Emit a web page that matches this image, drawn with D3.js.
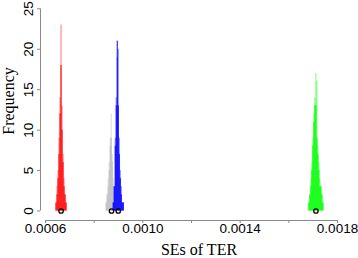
<!DOCTYPE html>
<html><head><meta charset="utf-8">
<script src="https://cdn.jsdelivr.net/npm/d3@7"></script>
<style>html,body{margin:0;padding:0;background:#fff;}svg{display:block;}</style>
</head><body>
<script>
// ---- data ----
const binWidth = 0.0000041;
const seriesNames = ["A", "B", "C", "D"];
const seriesColors = ["#FF0000", "#BEBEBE", "#0000FF", "#00FF00"];
const binStarts = [0.0006433, 0.0008495, 0.0008784, 0.0016825];
const redSolid = [1,2,4,7,12,18,10,6,3,2,1];
const redLight = [1,3,5,9,14,23,13,7,4,2,1];
const graySolid = [1,2,3,5,8,9,6,3,1];
const grayLight = [1,2,4,6,9,12,7,4,2];
const blueSolid = [1,3,8,13,21,13,7,4,2,1,1];
const blueLight = [1,3,9,14,19,20,9,5,3,1,1];
const greenSolid = [1,2,3,5,8,11,13,13,9,7,5,3,3,2,1];
const greenLight = [1,2,4,6,9,12,14,17,16,8,6,4,3,2,1];
const means = [0.000666, 0.0008734, 0.000901, 0.0017134];
const xTicks = [0.0006, 0.0008, 0.0010, 0.0012, 0.0014, 0.0016, 0.0018];
const xTickLabels = ["0.0006", "", "0.0010", "", "0.0014", "", "0.0018"];
const yTicks = [0, 5, 10, 15, 20, 25];

const solids = [redSolid, graySolid, blueSolid, greenSolid];
const lights = [redLight, grayLight, blueLight, greenLight];

const W = 358, H = 258;
const svg = d3.select("body").append("svg").attr("width", W).attr("height", H);
const x = d3.scaleLinear().domain([0.0006, 0.0018]).range([45, 337]);
const y = d3.scaleLinear().domain([0, 25]).range([210.5, 8.3]);

const axisCol = "#8a8a8a";

// histograms
seriesNames.forEach((s, i) => {
  const g = svg.append("g");
  [[lights[i], 0.55], [solids[i], 1]].forEach(([counts, op]) => {
    g.selectAll(null).data(counts).enter().append("rect")
      .attr("x", (d, j) => x(binStarts[i] + j * binWidth))
      .attr("width", (d, j) => x(binStarts[i] + (j + 1) * binWidth) - x(binStarts[i] + j * binWidth))
      .attr("y", d => y(d))
      .attr("height", d => y(0) - y(d))
      .attr("fill", seriesColors[i])
      .attr("fill-opacity", op);
  });
});

// mean circles
svg.selectAll(null).data(means).enter().append("circle")
  .attr("cx", d => x(d)).attr("cy", y(0) + 0.5).attr("r", 2.2)
  .attr("fill", "none").attr("stroke", "#000").attr("stroke-width", 1.3);

// x axis
const xAxis = d3.axisBottom(x).tickValues(xTicks).tickSize(3)
  .tickFormat((d, i) => xTickLabels[i]);
const gx = svg.append("g").attr("transform", "translate(0,220)").call(xAxis);
gx.select(".domain").attr("stroke", axisCol).attr("d", `M${x(0.0006)},0.5H${x(0.0018)}`);
gx.selectAll(".tick line").attr("stroke", axisCol);
gx.selectAll(".tick text").attr("font-family", "Liberation Sans, Arial, sans-serif")
  .attr("font-size", 13.5).attr("fill", "#000").attr("y", 0).attr("dy", 0)
  .attr("transform", "translate(0,13)");

// y axis
const yAxis = d3.axisLeft(y).tickValues(yTicks).tickSize(3).tickFormat(d3.format("d"));
const gy = svg.append("g").attr("transform", "translate(40,0)").call(yAxis);
gy.select(".domain").attr("stroke", axisCol).attr("d", `M0.5,${y(0)}V${y(25)}`);
gy.selectAll(".tick line").attr("stroke", axisCol);
gy.selectAll(".tick text").attr("font-family", "Liberation Sans, Arial, sans-serif")
  .attr("font-size", 13.5).attr("fill", "#000")
  .attr("x", 0).attr("dy", 0).attr("text-anchor", "middle")
  .attr("transform", "translate(-7,0) rotate(-90)");

// titles
svg.append("text").attr("transform", "translate(13.5,101) rotate(-90)")
  .attr("text-anchor", "middle").attr("font-family", "Liberation Serif, Times New Roman, serif")
  .attr("font-size", 16).text("Frequency");
svg.append("text").attr("x", 199).attr("y", 255)
  .attr("text-anchor", "middle").attr("font-family", "Liberation Serif, Times New Roman, serif")
  .attr("font-size", 16).text("SEs of TER");
</script>
</body></html>
